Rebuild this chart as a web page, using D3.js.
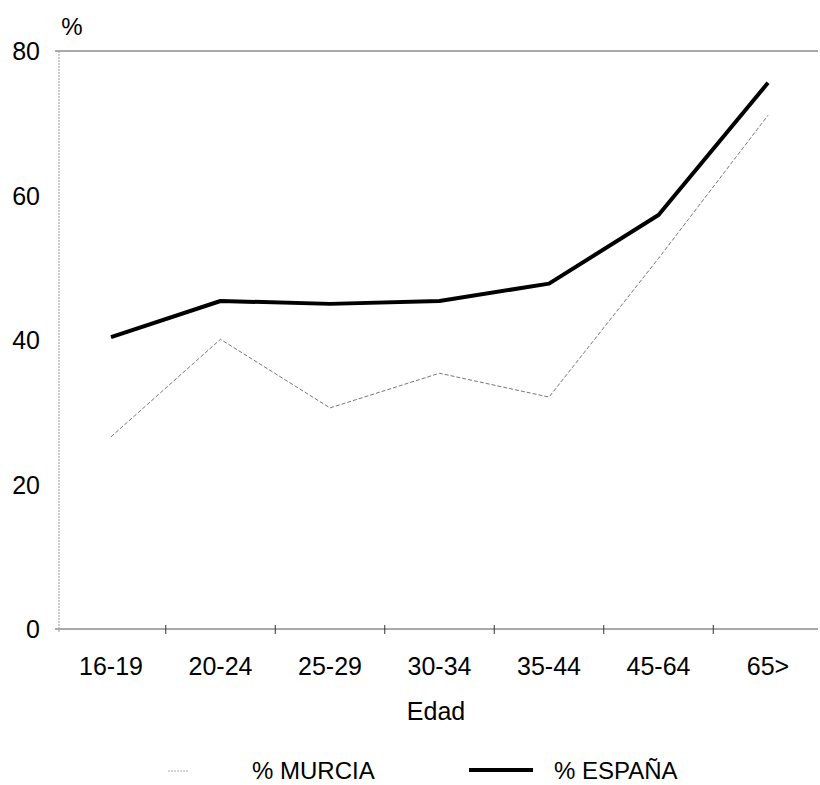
<!DOCTYPE html>
<html>
<head>
<meta charset="utf-8">
<script src="https://cdn.jsdelivr.net/npm/d3@7"></script>
<style>
  html, body { margin: 0; padding: 0; background: #fff; overflow: hidden; }
  text { font-family: "Liberation Sans", Arial, sans-serif; fill: #000; }
</style>
</head>
<body>
<svg id="chart" width="820" height="785"></svg>
<script>
const categories = ["16-19", "20-24", "25-29", "30-34", "35-44", "45-64", "65>"];
const murcia = [26.6, 40.1, 30.6, 35.4, 32.1, 51.3, 71.1];
const espana = [40.4, 45.4, 45.0, 45.4, 47.8, 57.3, 75.6];
const yTicks = [0, 20, 40, 60, 80];
const seriesNames = ["% MURCIA", "% ESPAÑA"];

const svg = d3.select("#chart");
const x = d3.scalePoint().domain(categories).range([111, 768]);
const step = x.step();
const y = d3.scaleLinear().domain([0, 80]).range([629, 51]);

// horizontal frame lines at 0 and 80
svg.selectAll("line.hline").data([0, 80]).enter().append("line")
  .attr("x1", 55).attr("x2", 818)
  .attr("y1", d => y(d)).attr("y2", d => y(d))
  .attr("stroke", "#555").attr("stroke-width", 1);

// y axis line (dotted light)
svg.append("line")
  .attr("x1", 59).attr("x2", 59)
  .attr("y1", y(80)).attr("y2", y(0) + 4)
  .attr("stroke", "#999").attr("stroke-width", 1)
  .attr("stroke-dasharray", "2,1");

// y tick labels
svg.selectAll("text.ytick").data(yTicks).enter().append("text")
  .attr("x", 40).attr("y", d => y(d) + 9)
  .attr("text-anchor", "end")
  .style("font-size", "25px")
  .text(d => d);

svg.append("text").attr("x", 72).attr("y", 35)
  .attr("text-anchor", "middle").style("font-size", "24px").text("%");

// x boundary ticks
const bounds = categories.slice(0, -1).map(c => x(c) + step / 2);
svg.selectAll("line.xtick").data(bounds).enter().append("line")
  .attr("x1", d => d).attr("x2", d => d)
  .attr("y1", y(0) - 4).attr("y2", y(0) + 5)
  .attr("stroke", "#333").attr("stroke-width", 1);

// x labels
svg.selectAll("text.xlab").data(categories).enter().append("text")
  .attr("x", d => x(d)).attr("y", 675)
  .attr("text-anchor", "middle")
  .style("font-size", "25px")
  .text(d => d);

svg.append("text").attr("x", 436).attr("y", 720)
  .attr("text-anchor", "middle").style("font-size", "25px").text("Edad");

// lines
const line = d3.line().x((d, i) => x(categories[i])).y(d => y(d));
svg.append("path").datum(murcia)
  .attr("d", line).attr("fill", "none")
  .attr("stroke", "#777").attr("stroke-width", 1)
  .attr("stroke-dasharray", "4,2");
svg.append("path").datum(espana)
  .attr("d", line).attr("fill", "none")
  .attr("stroke", "#000").attr("stroke-width", 4)
  .attr("stroke-linejoin", "round");

// legend
svg.append("line").attr("x1", 168).attr("x2", 189).attr("y1", 771).attr("y2", 771)
  .attr("stroke", "#aaa").attr("stroke-width", 1).attr("stroke-dasharray", "2,1");
svg.append("text").attr("x", 252).attr("y", 779).style("font-size", "24px").text(seriesNames[0]);
svg.append("line").attr("x1", 469).attr("x2", 533).attr("y1", 770).attr("y2", 770)
  .attr("stroke", "#000").attr("stroke-width", 4);
svg.append("text").attr("x", 554).attr("y", 779).style("font-size", "24px").text(seriesNames[1]);
</script>
</body>
</html>
